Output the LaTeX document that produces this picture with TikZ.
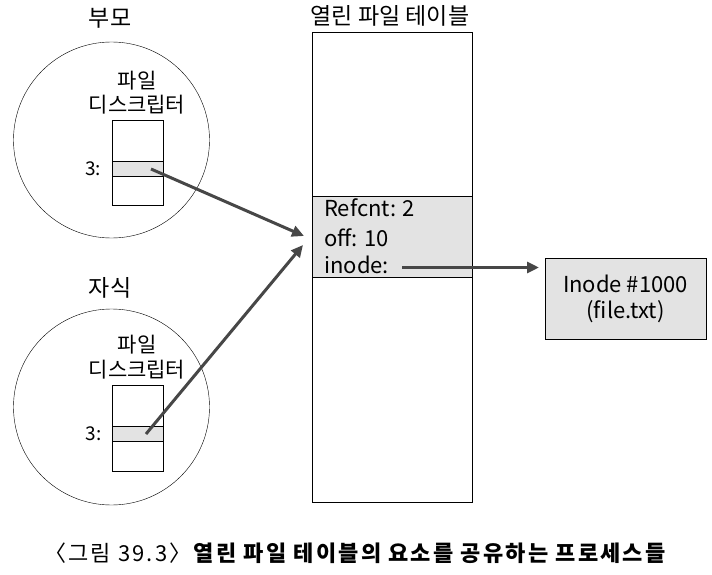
\documentclass[tikz,border=0pt]{standalone}
\usepackage{fontspec}
\setmainfont{Noto Sans CJK KR}
\newfontfamily\legfont{Noto Sans CJK KR}[LetterSpace=10]
\usetikzlibrary{arrows.meta}

\begin{document}
\begin{tikzpicture}[x=1pt,y=-1pt]

  % ── Estilos ────────────────────────
  \tikzset{
    processo/.style = {draw, circle, thin, minimum size=196pt, inner sep=0pt},
    tabela/.style   = {draw, thin, inner sep=0pt},
    entrada/.style  = {draw, thin, fill=gray!22, inner sep=0pt},
    titulo/.style   = {font=\fontsize{23}{27}\selectfont},
    rotulo/.style   = {align=center, font=\fontsize{21}{24.5}\selectfont},
    indice/.style   = {font=\fontsize{19}{22}\selectfont, anchor=east, xshift=-7pt},
    campo/.style    = {font=\fontsize{22}{26}\selectfont, anchor=west, inner sep=0pt},
    seta/.style     = {draw=black!72, line width=3pt, -{Triangle[length=12pt, width=11pt]}}
  }

  \useasboundingbox (0,0) rectangle (712,575);

  % =========================================================
  % 1. PROCESSOS (pai e filho)
  % =========================================================
  \node[titulo] (tpai) at (110,18) {부모};
  \node[processo] (pai) at (111.5,140) {};
  \node[rotulo] (fdpai) at (137,92.5) {파일\\디스크립터};
  \node[entrada, minimum width=51pt, minimum height=15pt] (lpai) at (137.5,168.5) {};
  \node[tabela, minimum width=51pt, minimum height=85pt] (tabpai) at (137.5,162.5) {};
  \node[indice] (npai) at (lpai.west) {3:};

  \node[titulo] (tfilho) at (110,288) {자식};
  \node[processo] (filho) at (111.5,407) {};
  \node[rotulo] (fdfilho) at (137,357) {파일\\디스크립터};
  \node[entrada, minimum width=51pt, minimum height=15pt] (lfilho) at (138,433.5) {};
  \node[tabela, minimum width=51pt, minimum height=86pt] (tabfilho) at (138,428) {};
  \node[indice] (nfilho) at (lfilho.west) {3:};

  % =========================================================
  % 2. TABELA DE ARQUIVOS ABERTOS
  % =========================================================
  \node[titulo] (taberta) at (390,16) {열린 파일 테이블};
  \node[entrada, minimum width=160pt, minimum height=81pt] (laberta) at (392,236.5) {};
  \node[tabela, minimum width=160pt, minimum height=470pt] (aberta) at (392,267) {};

  \node[campo] (refcnt) at (324,208) {Refcnt: 2};
  \node[campo] (off)    at (324,238) {off: 10};
  \node[campo] (inode)  at (324,265) {inode:};

  % Inode
  \node[entrada, minimum width=161pt, minimum height=81pt, align=center,
        font=\fontsize{22}{26}\selectfont] (inodebox) at (625.5,298.5) {Inode \#1000\\(file.txt)};

  % =========================================================
  % 3. SETAS
  % =========================================================
  \coordinate (spai)   at (151,169);
  \coordinate (sfilho) at (146,434);
  \coordinate (epai)   at (304,236);
  \coordinate (efilho) at (303,245);
  \coordinate (sinode) at (402,267.5);
  \coordinate (einode) at (539,267.5);
  \draw[seta] (spai) -- (epai);
  \draw[seta] (sfilho) -- (efilho);
  \draw[seta] (sinode) -- (einode);

  % Legenda
  \node[font=\fontsize{22}{26}\selectfont\legfont] (legenda) at (356,553)
    {〈그림 39.3〉\textbf{열린 파일 테이블의 요소를 공유하는 프로세스들}};

\end{tikzpicture}
\end{document}
